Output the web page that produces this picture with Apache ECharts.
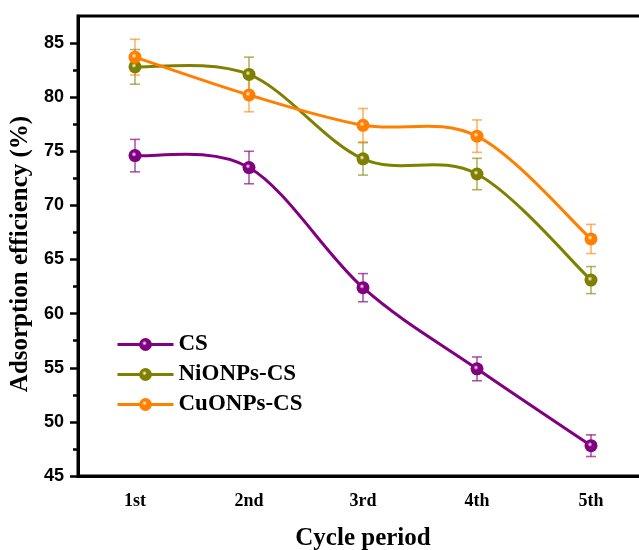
<!DOCTYPE html>
<html>
<head>
<meta charset="utf-8">
<script src="https://cdn.jsdelivr.net/npm/echarts@6/dist/echarts.min.js"></script>
<style>
  html, body { margin: 0; padding: 0; background: #fff; }
  #chart { width: 639px; height: 550px; }
</style>
</head>
<body>
<div id="chart"></div>
<script>
const cycles = ['1st', '2nd', '3rd', '4th', '5th'];
const csVals = [74.6, 73.5, 62.4, 54.9, 47.8];
const csErr = [1.5, 1.5, 1.3, 1.1, 1.0];
const niVals = [82.8, 82.1, 74.3, 72.9, 63.1];
const niErr = [1.6, 1.6, 1.5, 1.45, 1.25];
const cuVals = [83.7, 80.2, 77.4, 76.4, 66.9];
const cuErr = [1.65, 1.55, 1.55, 1.5, 1.35];
const yMajor = [45, 50, 55, 60, 65, 70, 75, 80, 85];
const yMinor = [47.5, 52.5, 57.5, 62.5, 67.5, 72.5, 77.5, 82.5];

const chart = echarts.init(document.getElementById('chart'));

// glossy marker fill
function ball(c) {
  return new echarts.graphic.RadialGradient(0.42, 0.4, 0.55, [
    { offset: 0, color: '#ffffff' },
    { offset: 0.35, color: c },
    { offset: 1, color: c }
  ]);
}

// markers + legend entry, the connecting line is drawn by splineSeries
function pointSeries(name, vals, color) {
  return {
    name: name,
    type: 'line',
    data: vals,
    symbol: 'circle',
    symbolSize: 13,
    lineStyle: { color: color, width: 0, opacity: 0 },
    itemStyle: { color: ball(color), borderWidth: 0 },
    z: 4
  };
}

// catmull-rom spline through the points (like Origin's spline connect)
function splineSeries(vals, color) {
  const n = vals.length;
  return {
    type: 'custom',
    data: vals.slice(0, n - 1).map((v, i) => [i, v]),
    renderItem: function (params, api) {
      const i = params.dataIndex;
      const p = j => api.coord([Math.max(0, Math.min(n - 1, j)), vals[Math.max(0, Math.min(n - 1, j))]]);
      const p0 = p(i - 1), p1 = p(i), p2 = p(i + 1), p3 = p(i + 2);
      return {
        type: 'bezierCurve',
        shape: {
          x1: p1[0], y1: p1[1], x2: p2[0], y2: p2[1],
          cpx1: p1[0] + (p2[0] - p0[0]) / 6, cpy1: p1[1] + (p2[1] - p0[1]) / 6,
          cpx2: p2[0] - (p3[0] - p1[0]) / 6, cpy2: p2[1] - (p3[1] - p1[1]) / 6
        },
        style: { stroke: color, lineWidth: 3, fill: null }
      };
    },
    silent: true,
    z: 3
  };
}

function errSeries(vals, errs, color) {
  return {
    type: 'custom',
    data: vals.map((v, i) => [i, v - errs[i], v + errs[i]]),
    renderItem: function (params, api) {
      const lo = api.coord([api.value(0), api.value(1)]);
      const hi = api.coord([api.value(0), api.value(2)]);
      const w = 5;
      const st = { stroke: color, lineWidth: 1.6 };
      return {
        type: 'group',
        children: [
          { type: 'line', shape: { x1: lo[0], y1: lo[1], x2: hi[0], y2: hi[1] }, style: st },
          { type: 'line', shape: { x1: lo[0] - w, y1: lo[1], x2: lo[0] + w, y2: lo[1] }, style: st },
          { type: 'line', shape: { x1: hi[0] - w, y1: hi[1], x2: hi[0] + w, y2: hi[1] }, style: st }
        ]
      };
    },
    silent: true,
    z: 2
  };
}

chart.setOption({
  animation: false,
  grid: {
    left: 78, top: 16, right: -9, bottom: 74,
    outerBoundsMode: 'none',
    containLabel: false,
    show: true, borderColor: '#000', borderWidth: 3
  },
  legend: {
    orient: 'vertical',
    left: 111,
    top: 328,
    itemWidth: 56,
    itemHeight: 16,
    itemGap: 7,
    itemStyle: { borderWidth: 0 },
    lineStyle: { width: 3, opacity: 1 },
    data: ['CS', 'NiONPs-CS', 'CuONPs-CS'],
    textStyle: { fontFamily: 'Liberation Serif', fontWeight: 'bold', fontSize: 23, color: '#000' }
  },
  xAxis: [{
    type: 'category',
    data: cycles,
    boundaryGap: true,
    name: 'Cycle period',
    nameLocation: 'middle',
    nameGap: 50,
    nameTextStyle: { fontFamily: 'Liberation Serif', fontWeight: 'bold', fontSize: 25, color: '#000' },
    axisLine: { lineStyle: { color: '#000', width: 3 } },
    axisTick: { alignWithLabel: true, length: 8, lineStyle: { color: '#000', width: 2.5 } },
    axisLabel: { margin: 16, fontFamily: 'Liberation Serif', fontWeight: 'bold', fontSize: 18, color: '#000' },
    splitLine: { show: false }
  }, {
    type: 'category',
    data: cycles,
    boundaryGap: true,
    position: 'bottom',
    axisLine: { show: false },
    axisTick: { length: 5, lineStyle: { color: '#000', width: 2.5 } },
    axisLabel: { show: false },
    splitLine: { show: false }
  }],
  yAxis: [{
    type: 'value',
    min: 45,
    max: 87.5,
    interval: 5,
    name: 'Adsorption efficiency (%)',
    nameLocation: 'middle',
    nameGap: 34,
    nameTextStyle: { fontFamily: 'Liberation Serif', fontWeight: 'bold', fontSize: 25, color: '#000', padding: [0, 16, 0, 0] },
    axisLine: { show: true, lineStyle: { color: '#000', width: 3 } },
    axisTick: { show: true, length: 8, customValues: yMajor, lineStyle: { color: '#000', width: 2.5 } },
    axisLabel: { margin: 14, customValues: yMajor, fontFamily: 'Liberation Sans', fontWeight: 'bold', fontSize: 18, color: '#000' },
    splitLine: { show: false }
  }, {
    type: 'value',
    min: 45,
    max: 87.5,
    position: 'left',
    axisLine: { show: false },
    axisTick: { show: true, length: 5, customValues: yMinor, lineStyle: { color: '#000', width: 2.5 } },
    axisLabel: { show: false },
    splitLine: { show: false }
  }],
  series: [
    pointSeries('CS', csVals, '#800080'),
    pointSeries('NiONPs-CS', niVals, '#808000'),
    pointSeries('CuONPs-CS', cuVals, '#ff8000'),
    splineSeries(csVals, '#800080'),
    splineSeries(niVals, '#808000'),
    splineSeries(cuVals, '#ff8000'),
    errSeries(csVals, csErr, 'rgba(128,0,128,0.65)'),
    errSeries(niVals, niErr, 'rgba(128,128,0,0.6)'),
    errSeries(cuVals, cuErr, 'rgba(255,128,0,0.6)')
  ]
});
</script>
</body>
</html>
